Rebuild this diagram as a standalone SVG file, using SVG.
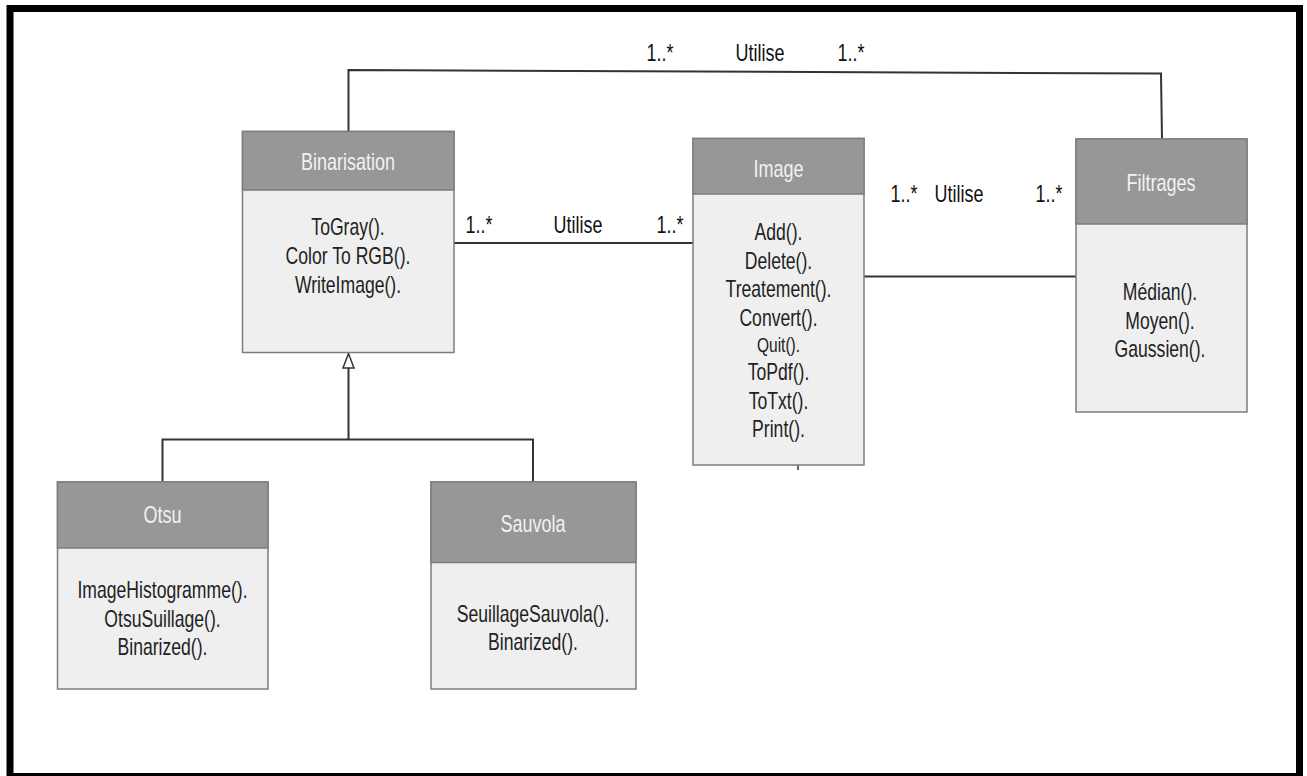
<svg xmlns="http://www.w3.org/2000/svg" width="1307" height="776" viewBox="0 0 1307 776">
  <style>
    .box { fill: #efefef; stroke: #7d7d7d; stroke-width: 1.5; }
    .head { fill: #979797; stroke: #7d7d7d; stroke-width: 1.5; }
    .h { font-family: "Liberation Sans", Arial, sans-serif; font-size: 24px; fill: #f2f2f2; text-anchor: middle; }
    .m { font-family: "Liberation Sans", Arial, sans-serif; font-size: 23px; fill: #222222; text-anchor: middle; }
    .q { font-family: "Liberation Sans", Arial, sans-serif; font-size: 21px; fill: #222222; text-anchor: middle; }
    .l { font-family: "Liberation Sans", Arial, sans-serif; font-size: 23px; fill: #111111; text-anchor: middle; }
    .c { fill: none; stroke: #333333; stroke-width: 2; }
  </style>
  <rect x="0" y="0" width="1307" height="776" fill="#ffffff"/>
  <rect id="frame" x="10" y="8.5" width="1289.5" height="768" fill="none" stroke="#000000" stroke-width="7"/>

  <g id="connectors">
    <polyline class="c" points="348.5,131 348.5,70 1161,73.5 1162,139"/>
    <line class="c" x1="454" y1="243" x2="693" y2="243"/>
    <line class="c" x1="864" y1="276.5" x2="1076" y2="276.5"/>
    <polyline class="c" points="348.5,368 348.5,439.5"/>
    <polyline class="c" points="162.5,482 162.5,439.5 533,439.5 533,482"/>
    <polygon points="348.5,353.5 343,368 354,368" fill="#ffffff" stroke="#333333" stroke-width="1.5"/>
    <line x1="798" y1="465" x2="798" y2="470" stroke="#333333" stroke-width="1.5"/>
    <g id="labels">
      <text class="l" transform="translate(660,60.5) scale(0.78,1)">1..*</text>
      <text class="l" transform="translate(760,60.5) scale(0.78,1)">Utilise</text>
      <text class="l" transform="translate(851,60.5) scale(0.78,1)">1..*</text>
      <text class="l" transform="translate(479,233) scale(0.78,1)">1..*</text>
      <text class="l" transform="translate(578,233) scale(0.78,1)">Utilise</text>
      <text class="l" transform="translate(670,233) scale(0.78,1)">1..*</text>
      <text class="l" transform="translate(904,201.5) scale(0.78,1)">1..*</text>
      <text class="l" transform="translate(959,201.5) scale(0.78,1)">Utilise</text>
      <text class="l" transform="translate(1049,201.5) scale(0.78,1)">1..*</text>
    </g>
  </g>

  <g id="Binarisation">
    <rect class="box" x="242.5" y="131.5" width="211.5" height="221"/>
    <rect class="head" x="242.5" y="131.5" width="211.5" height="58.5"/>
    <text class="h" transform="translate(348,170) scale(0.75,1)">Binarisation</text>
    <text class="m" transform="translate(348,235) scale(0.765,1)">ToGray().</text>
    <text class="m" transform="translate(348,264) scale(0.765,1)">Color To RGB().</text>
    <text class="m" transform="translate(348,293) scale(0.765,1)">WriteImage().</text>
  </g>

  <g id="Image">
    <rect class="box" x="693" y="138.5" width="171" height="326.5"/>
    <rect class="head" x="693" y="138.5" width="171" height="55.5"/>
    <text class="h" transform="translate(778.5,176.5) scale(0.75,1)">Image</text>
    <text class="m" transform="translate(778.5,240) scale(0.765,1)">Add().</text>
    <text class="m" transform="translate(778.5,268.5) scale(0.765,1)">Delete().</text>
    <text class="m" transform="translate(778.5,297) scale(0.765,1)">Treatement().</text>
    <text class="m" transform="translate(778.5,325.5) scale(0.765,1)">Convert().</text>
    <text class="q" transform="translate(778.5,352) scale(0.74,1)">Quit().</text>
    <text class="m" transform="translate(778.5,380) scale(0.765,1)">ToPdf().</text>
    <text class="m" transform="translate(778.5,408.5) scale(0.765,1)">ToTxt().</text>
    <text class="m" transform="translate(778.5,437) scale(0.765,1)">Print().</text>
  </g>

  <g id="Filtrages">
    <rect class="box" x="1076" y="139" width="171" height="273"/>
    <rect class="head" x="1076" y="139" width="171" height="85"/>
    <text class="h" transform="translate(1161,190.5) scale(0.75,1)">Filtrages</text>
    <text class="m" transform="translate(1160,300) scale(0.765,1)">Médian().</text>
    <text class="m" transform="translate(1160,328.5) scale(0.765,1)">Moyen().</text>
    <text class="m" transform="translate(1160,357) scale(0.765,1)">Gaussien().</text>
  </g>

  <g id="Otsu">
    <rect class="box" x="57.5" y="482" width="210.5" height="207"/>
    <rect class="head" x="57.5" y="482" width="210.5" height="66"/>
    <text class="h" transform="translate(162.5,523) scale(0.75,1)">Otsu</text>
    <text class="m" transform="translate(162.5,598) scale(0.765,1)">ImageHistogramme().</text>
    <text class="m" transform="translate(162.5,626.5) scale(0.765,1)">OtsuSuillage().</text>
    <text class="m" transform="translate(162.5,655) scale(0.765,1)">Binarized().</text>
  </g>

  <g id="Sauvola">
    <rect class="box" x="431" y="482" width="205" height="207"/>
    <rect class="head" x="431" y="482" width="205" height="80.5"/>
    <text class="h" transform="translate(533,532) scale(0.75,1)">Sauvola</text>
    <text class="m" transform="translate(533,621.5) scale(0.765,1)">SeuillageSauvola().</text>
    <text class="m" transform="translate(533,650) scale(0.765,1)">Binarized().</text>
  </g>
</svg>
